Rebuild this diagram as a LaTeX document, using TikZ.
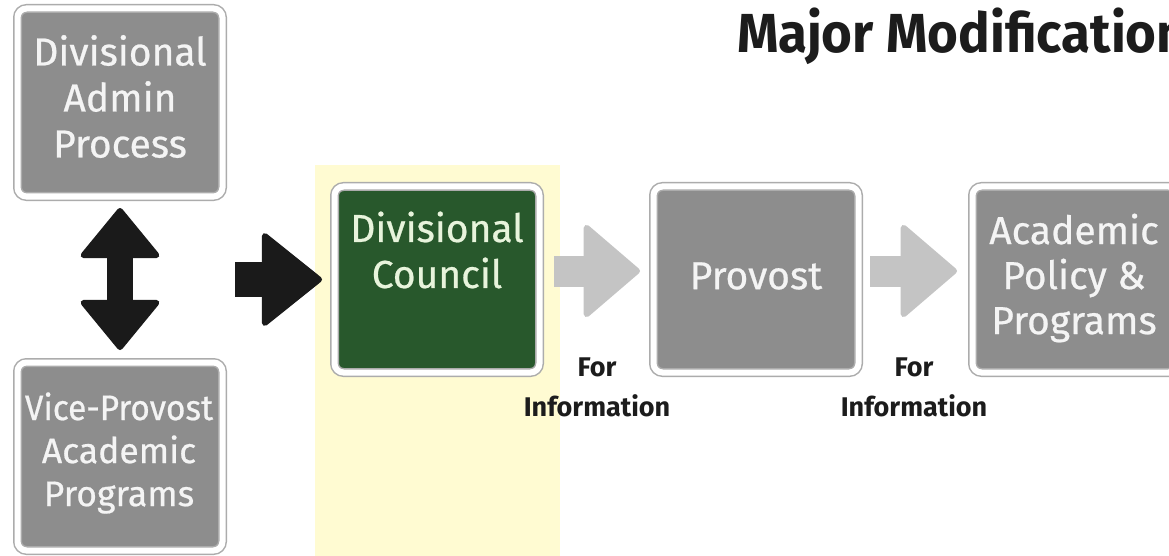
\documentclass[tikz,border=0pt]{standalone}
\usepackage{fontspec}
\setmainfont{Fira Sans}
\newfontfamily\boxfont[FakeBold=0.6]{Fira Sans}
\newfontfamily\boxfontnarrow[FakeBold=0.6,FakeStretch=0.94]{Fira Sans}
\newfontfamily\titlefont[FakeStretch=0.96]{Fira Sans}
\usetikzlibrary{arrows.meta}
\definecolor{boxgrey}{RGB}{141,141,141}
\definecolor{framegrey}{RGB}{172,172,172}
\definecolor{dcgreen}{RGB}{40,88,44}
\definecolor{dctextcol}{RGB}{232,244,220}
\definecolor{boxtextcol}{RGB}{244,244,244}
\definecolor{lightarrow}{RGB}{196,196,196}
\definecolor{darkarrow}{RGB}{26,26,26}
\definecolor{hilite}{RGB}{255,251,210}
\definecolor{titleblack}{RGB}{28,28,28}
\begin{document}
\begin{tikzpicture}[x=1pt,y=-1pt,
  box/.style={draw=framegrey, double=white, line width=1.5pt, double distance=6pt,
    fill=boxgrey, rounded corners=9pt, minimum width=205pt, minimum height=188pt,
    outer sep=0pt, inner sep=0pt},
  greenbox/.style={box, fill=dcgreen},
  btext/.style={inner sep=0pt, align=center, text=boxtextcol,
    font=\boxfont\fontsize{39}{46}\selectfont},
  dclabel/.style={btext, text=dctextcol},
  lbl/.style={anchor=north, inner sep=0pt, align=center, text=titleblack,
    font=\bfseries\fontsize{27}{40}\selectfont},
  titlestyle/.style={anchor=base west, inner sep=0pt, text=titleblack,
    font=\titlefont\bfseries\fontsize{55}{60}\selectfont},
  dblarrow/.style={draw=darkarrow, line width=26pt,
    {Triangle[length=52pt,width=84pt,line width=6pt,round]}-{Triangle[length=52pt,width=84pt,line width=6pt,round]}},
  blackarrow/.style={draw=darkarrow, line width=35pt,
    -{Triangle[length=62pt,width=98pt,line width=6pt,round]}},
  greyarrow/.style={draw=lightarrow, line width=31pt,
    -{Triangle[length=58pt,width=98pt,line width=6pt,round]}}
]
\useasboundingbox (0,0) rectangle (1169,556);
\clip (0,0) rectangle (1169,556);
\fill[white] (0,0) rectangle (1169,556);
\fill[hilite] (315,165) rectangle (560,556);

\node[titlestyle] (title) at (737,53) {Major Modification};

\node[box] (adm) at (120,102.5) {};
\node[btext] (admt) at (120,96.5) {Divisional\\Admin\\Process};
\node[box] (vp) at (120,456.5) {};
\node[btext, font=\boxfont\fontsize{35.5}{43}\selectfont] (vpt) at (119,453) {{\boxfontnarrow Vice-Provost}\\Academic\\Programs};
\node[greenbox, minimum height=186pt] (dc) at (437,279.5) {};
\node[dclabel] (dct) at (437,250) {Divisional\\Council};
\node[box, minimum height=186pt] (prov) at (756,279.5) {};
\node[btext] (provt) at (756,276) {Provost};
\node[box, minimum height=186pt] (app) at (1075,279.5) {};
\node[btext, font=\boxfont\fontsize{39}{45}\selectfont] (appt) at (1074,278) {Academic\\Policy \&\\Programs};

\node[lbl] (info1) at (597,358) {For\\Information};
\node[lbl] (info2) at (914,358) {For\\Information};

\coordinate (bstart) at (235,279.5);
\draw[dblarrow] ([yshift=-11.5pt]adm.south) -- ([yshift=12.5pt]vp.north);
\draw[blackarrow] (bstart) -- ([xshift=-12.5pt]dc.west);
\draw[greyarrow] ([xshift=14.5pt,yshift=8.5pt]dc.east) -- ([xshift=-13.5pt,yshift=8.5pt]prov.west);
\draw[greyarrow] ([xshift=11.5pt,yshift=8.5pt]prov.east) -- ([xshift=-15.5pt,yshift=8.5pt]app.west);
\end{tikzpicture}
\end{document}
